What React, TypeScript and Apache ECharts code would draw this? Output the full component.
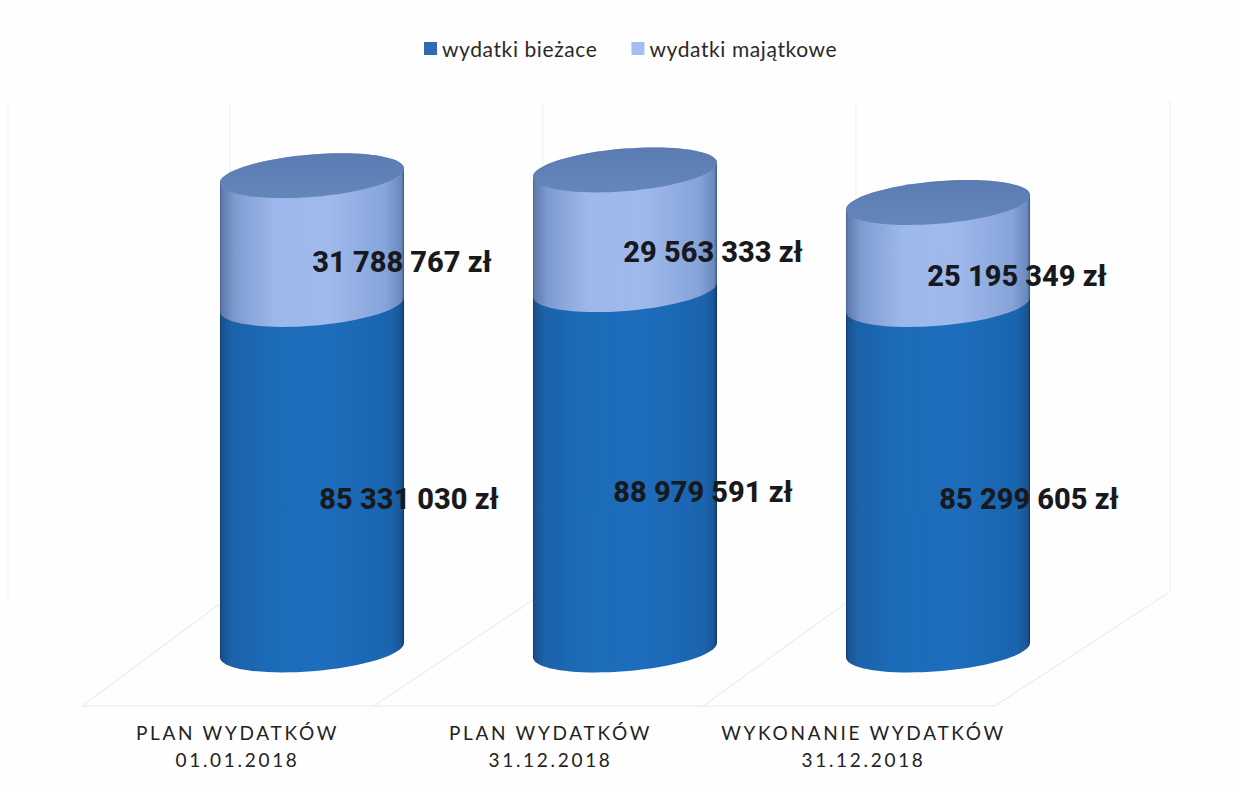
import React, { useEffect, useRef } from "react";
import * as echarts from "echarts";

const categories = ["PLAN WYDATKÓW\n01.01.2018", "PLAN WYDATKÓW\n31.12.2018", "WYKONANIE WYDATKÓW\n31.12.2018"];
const seriesNames = ["wydatki bieżace", "wydatki majątkowe"];
const currentExpenses = [85331030, 88979591, 85299605];
const capitalExpenses = [31788767, 29563333, 25195349];
const labelShiftCurrent = [97, 78, 91];
const labelShiftCapital = [90, 88, 79];

const formatPln = (v: number) => String(v).replace(/\B(?=(\d{3})+$)/g, " ") + " zł";

const grad = (stops: [number, string][]) =>
  new echarts.graphic.LinearGradient(0, 0, 1, 0, stops.map(([offset, color]) => ({ offset, color })));

const darkBody = () =>
  grad([
    [0, "#123f70"],
    [0.012, "#19528f"],
    [0.06, "#1b62aa"],
    [0.3, "#1c6cba"],
    [0.6, "#1d6dbc"],
    [0.93, "#1b64ae"],
    [0.985, "#185594"],
    [1, "#10365f"],
  ]);
const lightBody = () =>
  grad([
    [0, "#4a6591"],
    [0.012, "#607dae"],
    [0.08, "#7e9bd0"],
    [0.3, "#9db8ea"],
    [0.6, "#9fb9eb"],
    [0.9, "#86a4da"],
    [0.985, "#6a89bd"],
    [1, "#3e5883"],
  ]);

const K = 0.5523;

function makeRenderItem(bodyFill: () => any, withTop: boolean, shifts: number[]) {
  return (params: any, api: any) => {
    const idx = api.value(0);
    const base = api.value(1);
    const top = api.value(2);
    const band = api.size([1, 0])[0];
    const rx = band * 0.294;
    const ry = band * 0.068;
    const skew = band * 0.023;
    const pb = api.coord([idx, base]);
    const pt = api.coord([idx, top]);
    const cx = pb[0];
    const f = (n: number) => n.toFixed(2);
    // sheared ellipse: P(t) = C + u cos t + v sin t, u = (rx, -skew), v = (0, ry)
    const lowerArc = (cy: number) =>
      `C ${f(cx - rx)} ${f(cy + skew + K * ry)} ${f(cx - K * rx)} ${f(cy + K * skew + ry)} ${f(cx)} ${f(cy + ry)} ` +
      `C ${f(cx + K * rx)} ${f(cy - K * skew + ry)} ${f(cx + rx)} ${f(cy - skew + K * ry)} ${f(cx + rx)} ${f(cy - skew)} `;
    const upperArc = (cy: number) =>
      `C ${f(cx + rx)} ${f(cy - skew - K * ry)} ${f(cx + K * rx)} ${f(cy - K * skew - ry)} ${f(cx)} ${f(cy - ry)} ` +
      `C ${f(cx - K * rx)} ${f(cy + K * skew - ry)} ${f(cx - rx)} ${f(cy + skew - K * ry)} ${f(cx - rx)} ${f(cy + skew)} `;
    const body =
      `M ${f(cx - rx)} ${f(pb[1] + skew)} ` + lowerArc(pb[1]) + `L ${f(cx + rx)} ${f(pt[1] - skew)} ` + upperArc(pt[1]) + "Z";
    const children: any[] = [{ type: "path", shape: { pathData: body }, style: { fill: bodyFill() } }];
    if (withTop) {
      const lid = `M ${f(cx - rx)} ${f(pt[1] + skew)} ` + lowerArc(pt[1]) + upperArc(pt[1]) + "Z";
      children.push({
        type: "path",
        shape: { pathData: lid },
        style: {
          fill: new echarts.graphic.LinearGradient(0, 0, 0, 1, [
            { offset: 0, color: "#5a7cb2" },
            { offset: 1, color: "#6586bb" },
          ]),
        },
      });
    }
    children.push({
      type: "text",
      x: cx + shifts[params.dataIndex],
      y: (pb[1] + pt[1]) / 2 + 22,
      style: {
        text: formatPln(top - base),
        fill: "#17191d",
        font: "800 29px Roboto",
        align: "center",
        verticalAlign: "middle",
      },
    });
    return { type: "group", children };
  };
}

const floorLine = (x1: number, y1: number, x2: number, y2: number, stroke = "#e6e6e6") => ({
  type: "line",
  silent: true,
  shape: { x1, y1, x2, y2 },
  style: { stroke, lineWidth: 1 },
});

export default function App() {
  const ref = useRef<HTMLDivElement>(null);
  useEffect(() => {
    const chart = echarts.init(ref.current!, undefined, { renderer: "svg" });
    chart.setOption({
      animation: false,
      backgroundColor: "#fefefe",
      legend: {
        left: 419,
        top: 33,
        itemWidth: 13,
        itemHeight: 13,
        itemGap: 43,
        icon: "rect",
        selectedMode: false,
        textStyle: { fontFamily: "Lato", fontSize: 21, color: "#2a2a2a" },
        data: seriesNames,
      },
      grid: [
        { left: 155.5, width: 939, top: 83, height: 567 },
        { left: 81, width: 939, top: 100, height: 606 },
      ],
      xAxis: [
        { type: "category", gridIndex: 0, data: categories, show: false },
        {
          type: "category",
          gridIndex: 1,
          data: categories,
          axisLine: { show: false },
          axisTick: { show: false },
          axisLabel: {
            interval: 0,
            margin: 13,
            fontFamily: "Lato",
            fontSize: 19,
            lineHeight: 27,
            color: "#222222",
            hideOverlap: false,
          },
        },
      ],
      yAxis: [
        { type: "value", gridIndex: 0, min: 0, max: 140000000, show: false },
        { type: "value", gridIndex: 1, min: 0, max: 1, show: false },
      ],
      graphic: {
        elements: [
          floorLine(82, 706, 995, 706),
          floorLine(82, 706, 221, 603),
          floorLine(374, 706, 533, 600),
          floorLine(703, 706, 846, 603),
          floorLine(995, 706, 1168, 593),
          floorLine(230, 105, 230, 172, "#efefef"),
          floorLine(543, 105, 543, 165, "#efefef"),
          floorLine(856, 105, 856, 195, "#efefef"),
          floorLine(1170, 100, 1170, 592, "#efefef"),
          floorLine(8, 100, 8, 600, "#f6f6f6"),
        ],
      },
      series: [
        {
          type: "custom",
          name: seriesNames[0],
          xAxisIndex: 0,
          yAxisIndex: 0,
          itemStyle: { color: "#2f6ab4" },
          encode: { x: 0, y: [1, 2] },
          renderItem: makeRenderItem(darkBody, false, labelShiftCurrent),
          data: currentExpenses.map((v, i) => [i, 0, v]),
          z: 3,
        },
        {
          type: "custom",
          name: seriesNames[1],
          xAxisIndex: 0,
          yAxisIndex: 0,
          itemStyle: { color: "#a3bdf0" },
          encode: { x: 0, y: [1, 2] },
          renderItem: makeRenderItem(lightBody, true, labelShiftCapital),
          data: capitalExpenses.map((v, i) => [i, currentExpenses[i], currentExpenses[i] + v]),
          z: 4,
        },
      ],
    });
    return () => chart.dispose();
  }, []);
  return (
    <>
      <style>{`
        body { margin: 0; }
        svg text[style*="19px"] { letter-spacing: 2.7px; }
        svg text[style*="21px"] { letter-spacing: 0.6px; }
      `}</style>
      <div ref={ref} style={{ position: "fixed", left: 0, top: 0, width: 1240, height: 787 }} />
    </>
  );
}
